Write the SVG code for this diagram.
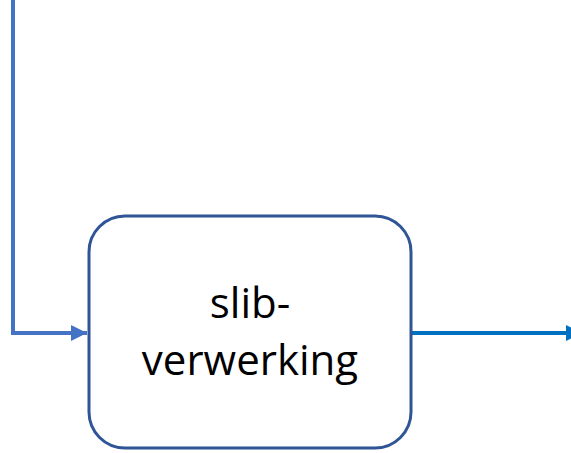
<svg xmlns="http://www.w3.org/2000/svg" width="571" height="453" viewBox="0 0 571 453">
<defs>
<style>
.box{fill:#ffffff;stroke:#2F5597;stroke-width:3}
.lbl{font-family:"Open Sans","Liberation Sans",sans-serif;font-size:42px;fill:#000000;text-anchor:middle}
.c1{fill:none;stroke:#4472C4;stroke-width:4}
.c2{fill:none;stroke:#0070C0;stroke-width:4}
</style>
<marker id="a1" viewBox="0 0 10 10" refX="10" refY="5" markerWidth="4" markerHeight="4" markerUnits="strokeWidth" orient="auto"><path d="M0,0 L10,5 L0,10 z" fill="#4472C4"/></marker>
<marker id="a2" viewBox="0 0 10 10" refX="10" refY="5" markerWidth="4" markerHeight="4" markerUnits="strokeWidth" orient="auto"><path d="M0,0 L10,5 L0,10 z" fill="#0070C0"/></marker>
</defs>
<g id="connectors">
<path class="c1" d="M13,0 L13,333 L87,333" marker-end="url(#a1)"/>
<path class="c2" d="M411,333 L582,333" marker-end="url(#a2)"/>
</g>
<g id="node-slibverwerking">
<rect class="box" x="89" y="216" width="322" height="232" rx="36" ry="36"/>
<text class="lbl" x="250" y="318">slib-</text>
<text class="lbl" x="250" y="375">verwerking</text>
</g>
</svg>
